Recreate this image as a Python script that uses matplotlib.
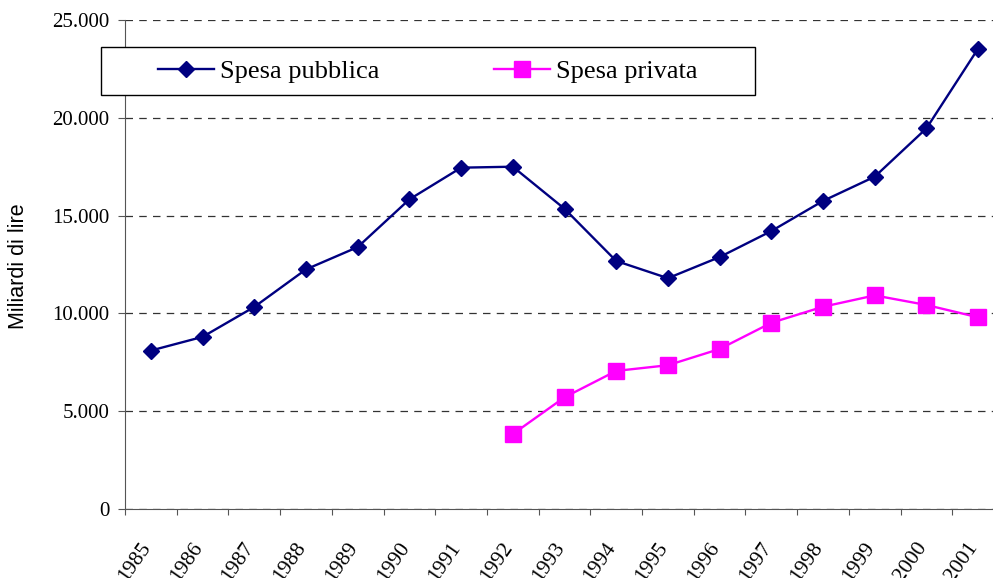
import matplotlib.pyplot as plt
from matplotlib.ticker import FuncFormatter, FixedLocator
from matplotlib.patches import Rectangle
import numpy as np

anni = ['1985', '1986', '1987', '1988', '1989', '1990', '1991', '1992', '1993',
        '1994', '1995', '1996', '1997', '1998', '1999', '2000', '2001']
spesa_pubblica = [8100, 8800, 10330, 12250, 13390, 15830, 17450, 17500, 15350,
                  12680, 11800, 12880, 14210, 15750, 16990, 19460, 23540]
anni_privata = ['1992', '1993', '1994', '1995', '1996', '1997', '1998', '1999', '2000', '2001']
spesa_privata = [3830, 5710, 7060, 7350, 8180, 9520, 10340, 10920, 10430, 9800]

serif = ['Liberation Serif', 'DejaVu Serif']

fig = plt.figure(figsize=(9.93, 5.78), dpi=100)
ax = fig.add_axes([125 / 993, 1 - 509 / 578, (1004 - 125) / 993, 489 / 578])

x_pub = np.arange(len(anni)) + 0.5
x_priv = np.array([anni.index(a) for a in anni_privata]) + 0.5

ax.plot(x_pub, spesa_pubblica, color='#000080', lw=1.7, marker='D', ms=8.5,
        label='Spesa pubblica', clip_on=False, zorder=3)
ax.plot(x_priv, spesa_privata, color='#FF00FF', lw=1.7, marker='s', ms=11,
        label='Spesa privata', clip_on=False, zorder=3)

ax.set_xlim(0, len(anni))
ax.set_ylim(0, 25000)
ax.set_yticks(np.arange(0, 25001, 5000))
ax.yaxis.set_major_formatter(FuncFormatter(lambda v, p: f'{int(v):,}'.replace(',', '.')))

# tick marks on category boundaries, labels on centers
ax.xaxis.set_major_locator(FixedLocator(np.arange(0, len(anni) + 1)))
ax.xaxis.set_minor_locator(FixedLocator(x_pub))
ax.set_xticklabels([])
ax.set_xticklabels(anni, minor=True, rotation=55, ha='right', va='baseline',
                   rotation_mode='anchor', family=serif, fontsize=15.5)
ax.tick_params(axis='x', which='minor', length=0, pad=27)
ax.tick_params(axis='x', which='major', length=4.5, color='#555555')
ax.tick_params(axis='y', length=5, pad=6, color='#555555', labelsize=15)
for lab in ax.get_yticklabels():
    lab.set_family(serif)

ax.grid(axis='y', linestyle=(0, (6, 5)), color='#333333', lw=0.9)
ax.set_axisbelow(True)
for s in ['top', 'right']:
    ax.spines[s].set_visible(False)
ax.spines['left'].set_color('#555555')
ax.spines['bottom'].set_color('#555555')

fig.text(19 / 993, 1 - 266 / 578, 'Miliardi di lire', rotation=90, ha='center', va='center',
         family=['Liberation Sans', 'DejaVu Sans'], fontsize=15.5)

# legend box
box = Rectangle((101 / 993, 1 - 95 / 578), 654 / 993, 48 / 578, transform=fig.transFigure,
                facecolor='white', edgecolor='black', lw=1.0, zorder=4)
fig.patches.append(box)
leg = fig.legend(loc='center', ncol=2, bbox_to_anchor=(428 / 993, 1 - 71 / 578),
                 prop={'family': serif, 'size': 19}, frameon=False,
                 handlelength=2.1, handletextpad=0.25, columnspacing=4.35)
leg.set_zorder(5)

fig.savefig('out.png', dpi=100)
